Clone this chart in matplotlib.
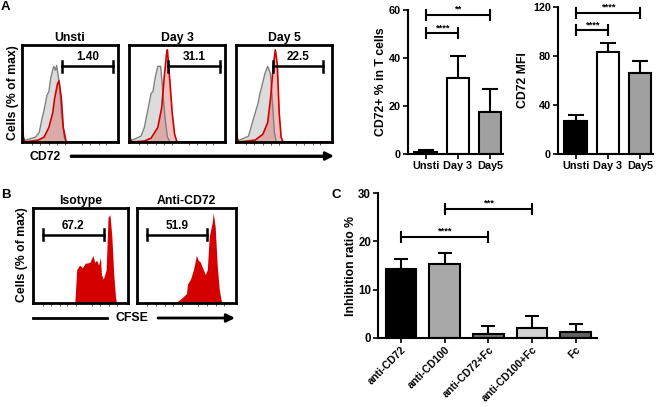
import numpy as np
import matplotlib.pyplot as plt

plt.rcParams['font.family'] = ['Liberation Sans', 'DejaVu Sans']
plt.rcParams['font.weight'] = 'bold'
plt.rcParams['axes.labelweight'] = 'bold'

W, H = 661, 407

# ---- panel A: CD72 histograms (x = fraction of axis, y = fraction of max)
a_titles = ['Unsti', 'Day 3', 'Day 5']
a_gates = ['1.40', '31.1', '22.5']
a_gate_x = [(0.42, 0.95), (0.41, 0.95), (0.39, 0.91)]

unsti_gray_x = [0.0, 0.04, 0.14, 0.18, 0.21, 0.23, 0.26, 0.28, 0.30, 0.33, 0.35, 0.36, 0.39, 0.41, 0.44, 0.46, 1.0]
unsti_gray_y = [0.02, 0.02, 0.05, 0.10, 0.25, 0.33, 0.48, 0.52, 0.66, 0.78, 0.74, 0.79, 0.60, 0.30, 0.05, 0.0, 0.0]
unsti_red_x = [0.0, 0.015, 0.03, 0.17, 0.23, 0.28, 0.32, 0.34, 0.37, 0.385, 0.41, 0.43, 0.46, 1.0]
unsti_red_y = [0.22, 0.05, 0.0, 0.02, 0.05, 0.15, 0.30, 0.45, 0.60, 0.63, 0.45, 0.15, 0.0, 0.0]

day3_gray_x = [0.0, 0.035, 0.125, 0.16, 0.20, 0.23, 0.25, 0.27, 0.30, 0.33, 0.35, 0.375, 0.40, 0.43, 1.0]
day3_gray_y = [0.02, 0.02, 0.06, 0.15, 0.35, 0.50, 0.52, 0.65, 0.78, 0.78, 0.55, 0.25, 0.05, 0.0, 0.0]
day3_red_x = [0.0, 0.015, 0.03, 0.16, 0.23, 0.30, 0.34, 0.37, 0.39, 0.40, 0.42, 0.45, 0.475, 0.50, 1.0]
day3_red_y = [0.12, 0.03, 0.0, 0.01, 0.04, 0.15, 0.35, 0.70, 0.90, 0.95, 0.70, 0.30, 0.08, 0.0, 0.0]

day5_gray_x = [0.0, 0.04, 0.13, 0.20, 0.23, 0.25, 0.30, 0.33, 0.36, 0.38, 0.40, 0.42, 1.0]
day5_gray_y = [0.02, 0.02, 0.06, 0.30, 0.40, 0.50, 0.70, 0.78, 0.70, 0.40, 0.10, 0.0, 0.0]
day5_red_x = [0.0, 0.015, 0.03, 0.20, 0.28, 0.33, 0.36, 0.39, 0.41, 0.43, 0.45, 0.47, 0.49, 1.0]
day5_red_y = [0.15, 0.03, 0.0, 0.02, 0.08, 0.20, 0.45, 0.80, 0.95, 0.80, 0.30, 0.05, 0.0, 0.0]

a_gray = [(unsti_gray_x, unsti_gray_y), (day3_gray_x, day3_gray_y), (day5_gray_x, day5_gray_y)]
a_red = [(unsti_red_x, unsti_red_y), (day3_red_x, day3_red_y), (day5_red_x, day5_red_y)]

# ---- panel A bar charts
groups = ['Unsti', 'Day 3', 'Day5']
pct_vals = [0.9, 31.7, 17.6]
pct_err = [0.6, 9.3, 9.3]
mfi_vals = [27, 83, 66]
mfi_err = [4.5, 8, 10]
group_colors = ['black', 'white', '#a0a0a0']

# ---- panel B: CFSE histograms
b_titles = ['Isotype', 'Anti-CD72']
b_gates = ['67.2', '51.9']
b_gate_x = [(0.10, 0.75), (0.10, 0.71)]
iso_x = [0.0, 0.44, 0.46, 0.49, 0.52, 0.55, 0.57, 0.60, 0.63, 0.65, 0.67, 0.69, 0.71, 0.72, 0.74,
         0.77, 0.79, 0.81, 0.83, 0.85, 0.87, 0.88, 1.0]
iso_y = [0.0, 0.0, 0.35, 0.40, 0.37, 0.42, 0.42, 0.43, 0.50, 0.43, 0.45, 0.40, 0.48, 0.30, 0.25,
         0.35, 0.90, 0.93, 0.70, 0.30, 0.05, 0.0, 0.0]
anti_x = [0.0, 0.40, 0.45, 0.50, 0.51, 0.54, 0.57, 0.60, 0.62, 0.64, 0.67, 0.69, 0.71, 0.73,
          0.76, 0.77, 0.79, 0.81, 0.83, 0.85, 0.86, 1.0]
anti_y = [0.0, 0.01, 0.05, 0.10, 0.20, 0.25, 0.35, 0.50, 0.45, 0.43, 0.35, 0.30, 0.35, 0.70,
          0.85, 0.95, 0.80, 0.40, 0.15, 0.03, 0.0, 0.0]
b_hist = [(iso_x, iso_y), (anti_x, anti_y)]

# ---- panel C
c_labels = ['anti-CD72', 'anti-CD100', 'anti-CD72+Fc', 'anti-CD100+Fc', 'Fc']
c_vals = [14.3, 15.3, 0.9, 2.1, 1.2]
c_err = [2.0, 2.3, 1.5, 2.5, 1.6]
c_colors = ['black', '#a8a8a8', '#757575', '#d3d3d3', '#616161']

fig = plt.figure(figsize=(W / 100, H / 100), dpi=100)


def px_axes(x0, y0, x1, y1):
    return fig.add_axes([x0 / W, 1 - y1 / H, (x1 - x0) / W, (y1 - y0) / H])


def ftext(x, y, s, **kw):
    fig.text(x / W, 1 - y / H, s, **kw)


def hist_box(ax):
    ax.set_xlim(0, 1)
    ax.set_ylim(0, 1)
    for sp in ax.spines.values():
        sp.set_linewidth(2)
    ax.set_yticks([])
    ax.set_xticks([0.1, 0.19, 0.28, 0.36, 0.45, 0.62, 0.71, 0.8, 0.88])
    ax.tick_params(axis='x', length=2.5, width=0.6, labelbottom=False, color='#444444')


def gate(ax, x0, x1, y, label):
    ax.plot([x0, x1], [y, y], color='black', lw=1.8)
    ax.plot([x0, x0], [y - 0.06, y + 0.06], color='black', lw=1.8)
    ax.plot([x1, x1], [y - 0.06, y + 0.06], color='black', lw=1.8)
    ax.text((x0 + x1) / 2, y + 0.03, label, ha='center', va='bottom', fontsize=8.5)


# histograms A
a_boxes = [(22, 45, 118, 142), (129, 45, 225, 142), (236, 45, 332, 142)]
for i, box in enumerate(a_boxes):
    ax = px_axes(*box)
    hist_box(ax)
    gx, gy = a_gray[i]
    rx, ry = a_red[i]
    ax.fill_between(gx, gy, color='#dcdcdc', lw=0)
    ax.plot(gx, gy, color='#808080', lw=1)
    ax.fill_between(rx, ry, color='#e06060', alpha=0.4, lw=0)
    ax.plot(rx, ry, color='#d00000', lw=1.2)
    gate(ax, a_gate_x[i][0], a_gate_x[i][1], 0.78, a_gates[i])
    ax.set_title(a_titles[i], fontsize=8.8, fontweight='bold', pad=3)

ftext(13, 93, 'Cells (% of max)', rotation=90, ha='center', va='center', fontsize=8.8)
ftext(45, 157, 'CD72', ha='center', va='center', fontsize=8.8)
fig.add_artist(plt.Line2D([71 / W, 326 / W], [1 - 156 / H] * 2, color='black', lw=2))
ax_ov = fig.add_axes([0, 0, 1, 1], zorder=-1)
ax_ov.set_xlim(0, W)
ax_ov.set_ylim(H, 0)
ax_ov.axis('off')
ax_ov.annotate('', xy=(334, 156), xytext=(71, 156),
               arrowprops=dict(arrowstyle='-|>', lw=2, color='black', mutation_scale=12, shrinkA=0, shrinkB=0))


# bar charts A
def bar_panel(ax, vals, errs, colors, labels, ymax, yticks, capsize, fs):
    x = np.arange(len(vals))
    ax.bar(x, vals, width=0.7, color=colors, edgecolor='black', lw=1.5, zorder=2)
    ax.errorbar(x, vals, yerr=[np.zeros(len(vals)), errs], fmt='none', ecolor='black',
                elinewidth=1.5, capsize=capsize, capthick=1.5, zorder=1)
    ax.set_ylim(0, ymax)
    ax.set_yticks(yticks)
    ax.set_xticks(x)
    ax.set_xticklabels(labels)
    for s in ['top', 'right']:
        ax.spines[s].set_visible(False)
    for s in ['left', 'bottom']:
        ax.spines[s].set_linewidth(1.5)
    ax.tick_params(axis='both', labelsize=fs, width=1.2, length=3.5, pad=1.5)


def bracket(ax, x0, x1, y, d, stars, dy):
    ax.plot([x0, x1], [y, y], color='black', lw=1.5, clip_on=False)
    ax.plot([x0, x0], [y - d, y + d], color='black', lw=1.5, clip_on=False)
    ax.plot([x1, x1], [y - d, y + d], color='black', lw=1.5, clip_on=False)
    ax.text((x0 + x1) / 2, y + dy, stars, ha='center', va='bottom', fontsize=6.8, clip_on=False)


ax1 = px_axes(408, 10, 503, 154)
bar_panel(ax1, pct_vals, pct_err, group_colors, groups, 60, [0, 20, 40, 60], 6, 7.8)
ax1.set_xlim(-0.55, 2.4)
ax1.set_ylabel('CD72+ % in T cells', fontsize=8.8)
ax1.yaxis.set_label_coords(-0.225, 0.5)
bracket(ax1, 0, 1, 50.3, 2.0, '****', 0.5)
bracket(ax1, 0, 2, 58, 2.0, '**', 0.5)

ax2 = px_axes(558, 7, 653, 154)
bar_panel(ax2, mfi_vals, mfi_err, group_colors, groups, 120, [0, 40, 80, 120], 6, 7.8)
ax2.set_xlim(-0.55, 2.4)
ax2.set_ylabel('CD72 MFI', fontsize=8.8)
ax2.yaxis.set_label_coords(-0.30, 0.5)
bracket(ax2, 0, 1, 101, 4.0, '****', 1.0)
bracket(ax2, 0, 2, 115, 4.0, '****', 1.0)

# histograms B
b_boxes = [(33, 208, 128, 303), (137, 208, 236, 303)]
for i, box in enumerate(b_boxes):
    ax = px_axes(*box)
    hist_box(ax)
    hx, hy = b_hist[i]
    ax.fill_between(hx, hy, color='#d40000', lw=0)
    gate(ax, b_gate_x[i][0], b_gate_x[i][1], 0.72, b_gates[i])
    ax.set_title(b_titles[i], fontsize=8.8, fontweight='bold', pad=3)

ftext(22, 255, 'Cells (% of max)', rotation=90, ha='center', va='center', fontsize=8.8)
ftext(132, 318, 'CFSE', ha='center', va='center', fontsize=8.8)
fig.add_artist(plt.Line2D([33 / W, 107 / W], [1 - 318 / H] * 2, color='black', lw=2))
ax_ov.annotate('', xy=(235, 318), xytext=(158, 318),
               arrowprops=dict(arrowstyle='-|>', lw=2, color='black', mutation_scale=12, shrinkA=0, shrinkB=0))

# panel C
ax3 = px_axes(378, 193, 597, 338)
bar_panel(ax3, c_vals, c_err, c_colors, c_labels, 30, [0, 10, 20, 30], 5, 8.3)
ax3.set_xlim(-0.53, 4.49)
ax3.set_xticklabels(c_labels, rotation=45, ha='right', rotation_mode='anchor', fontsize=7.6)
ax3.set_ylabel('Inhibition ratio %', fontsize=8.8)
ax3.yaxis.set_label_coords(-0.098, 0.5)
bracket(ax3, 0, 2, 20.9, 1.0, '****', 0.3)
bracket(ax3, 1, 3, 26.7, 1.0, '***', 0.3)

# panel letters
ftext(5, 7, 'A', ha='center', va='center', fontsize=9.5)
ftext(6, 195, 'B', ha='center', va='center', fontsize=9.5)
ftext(336, 195, 'C', ha='center', va='center', fontsize=9.5)

fig.savefig('out.png', dpi=100)
